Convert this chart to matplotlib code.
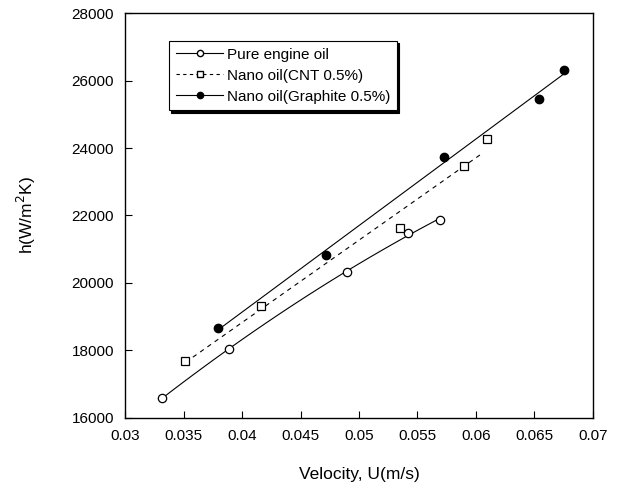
import numpy as np
import matplotlib
matplotlib.use("Agg")
import matplotlib.pyplot as plt

plt.rcParams['font.family'] = ['Liberation Sans', 'DejaVu Sans']

# data
u_pure = [0.03314, 0.03891, 0.04895, 0.05416, 0.05692]
h_pure = [16584, 18044, 20326, 21481, 21867]

u_cnt = [0.03513, 0.04160, 0.05350, 0.05900, 0.06097]
h_cnt = [17698, 19327, 21639, 23467, 24267]

u_gra = [0.03792, 0.04715, 0.05727, 0.06538, 0.06752]
h_gra = [18658, 20821, 23743, 25452, 26311]

labels = ['Pure engine oil', 'Nano oil(CNT 0.5%)', 'Nano oil(Graphite 0.5%)']
xticks = [0.03, 0.035, 0.04, 0.045, 0.05, 0.055, 0.06, 0.065, 0.07]
xtick_labels = ['0.03', '0.035', '0.04', '0.045', '0.05', '0.055', '0.06', '0.065', '0.07']
yticks = [16000, 18000, 20000, 22000, 24000, 26000, 28000]

fig = plt.figure(figsize=(6.21, 4.91), dpi=100)
ax = fig.add_axes([0.2013, 0.1487, 0.7536, 0.8248])

# fitted trend lines
p = np.polyfit(u_pure, h_pure, 2)
xs = np.linspace(u_pure[0], u_pure[-1], 50)
ax.plot(xs, np.polyval(p, xs), 'k-', lw=0.8)

p = np.polyfit(u_cnt, h_cnt, 1)
xs = np.linspace(0.0358, 0.0604, 50)
ax.plot(xs, np.polyval(p, xs), 'k', ls=(0, (4, 4)), lw=0.8)

p = np.polyfit(u_gra, h_gra, 1)
xs = np.linspace(u_gra[0], u_gra[-1], 50)
ax.plot(xs, np.polyval(p, xs), 'k-', lw=0.8)

ax.plot(u_pure, h_pure, 'o', mfc='white', mec='black', ms=6, mew=0.9)
ax.plot(u_cnt, h_cnt, 's', mfc='white', mec='black', ms=6, mew=0.9)
ax.plot(u_gra, h_gra, 'o', mfc='black', mec='black', ms=6)

# legend handles
h1, = ax.plot([], [], 'k-', marker='o', mfc='white', mec='black', ms=4.5, lw=0.8)
h2, = ax.plot([], [], 'k', ls=(0, (3, 3)), marker='s', mfc='white', mec='black', ms=4.5, lw=0.8)
h3, = ax.plot([], [], 'k-', marker='o', mfc='black', mec='black', ms=4.5, lw=0.8)
leg = ax.legend([h1, h2, h3], labels, loc='upper left', bbox_to_anchor=(0.094, 0.931),
                fontsize=11, handlelength=3.1, frameon=True, fancybox=False,
                shadow={'color': 'black', 'alpha': 1, 'ox': 1.5, 'oy': -1.5},
                borderpad=0.45, labelspacing=0.45, handletextpad=0.25, borderaxespad=0)
leg.get_frame().set_edgecolor('black')
leg.get_frame().set_linewidth(0.8)
leg.get_frame().set_alpha(1)

ax.set_xlim(0.03, 0.07)
ax.set_ylim(16000, 28000)
ax.set_xticks(xticks)
ax.set_xticklabels(xtick_labels)
ax.set_yticks(yticks)
ax.tick_params(direction='in', length=5, labelsize=11, top=False, right=False, pad=8)
for s in ax.spines.values():
    s.set_linewidth(1.0)

ax.set_xlabel('Velocity, U(m/s)', fontsize=12.5, labelpad=17)
ax.set_ylabel('h(W/m$^2$K)', fontsize=12.5, labelpad=24)

fig.savefig('out.png', dpi=100)
